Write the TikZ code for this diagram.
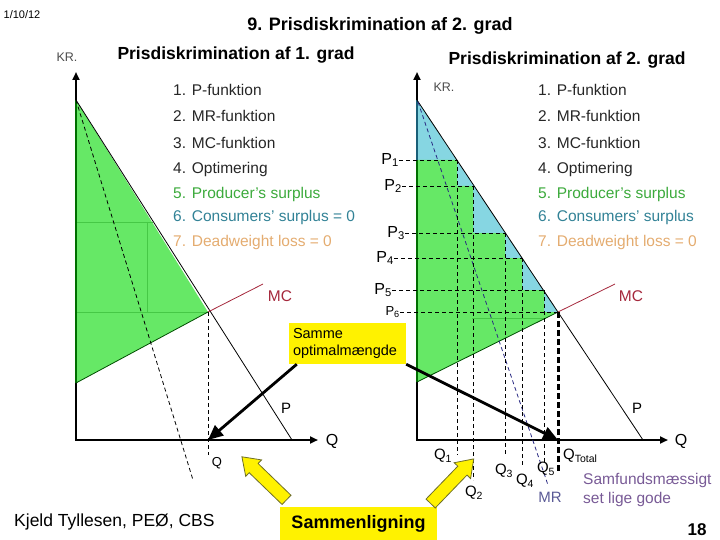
\documentclass[tikz,border=0pt]{standalone}
\usepackage{fontspec}
\setmainfont{Liberation Sans}
\usetikzlibrary{arrows.meta, positioning, shapes.arrows}

\definecolor{surplusgreen}{RGB}{102,232,102}
\definecolor{faintgreen}{RGB}{70,200,70}
\definecolor{axisgreen}{RGB}{0,110,0}
\definecolor{cscyan}{RGB}{134,214,226}
\definecolor{axiscyan}{RGB}{25,95,120}
\definecolor{mcred}{RGB}{165,40,60}
\definecolor{txtgreen}{RGB}{60,170,60}
\definecolor{txtteal}{RGB}{50,130,150}
\definecolor{txttan}{RGB}{228,172,112}
\definecolor{mrblue}{RGB}{40,40,130}
\definecolor{mrtext}{RGB}{90,90,150}
\definecolor{samfpurple}{RGB}{120,90,150}
\definecolor{arrowedge}{RGB}{110,110,40}

\newcommand{\pxfont}[1]{\fontsize{#1}{#1}\selectfont}

\begin{document}
\begin{tikzpicture}[
  x=1pt, y=-1pt,
  font=\pxfont{15},
  title/.style  ={font=\pxfont{18}\bfseries, inner sep=0pt},
  head/.style   ={font=\pxfont{17.5}\bfseries, inner sep=0pt},
  item/.style   ={anchor=west, inner sep=0pt, text=black!85, font=\pxfont{15.5}},
  lab/.style    ={inner sep=0pt},
  plab/.style   ={inner sep=0pt, anchor=east, font=\pxfont{16}},
  axis/.style   ={line width=2.6pt, {Triangle[length=8pt,width=7pt]}-{Triangle[length=8pt,width=7pt]}},
  curve/.style  ={line width=0.8pt},
  mrline/.style ={line width=0.8pt, dash pattern=on 4pt off 3pt},
  guide/.style  ={line width=0.8pt, dash pattern=on 4pt off 3pt},
  faint/.style  ={line width=0.8pt, draw=faintgreen},
  note/.style   ={fill=yellow, text width=109pt, align=left, inner sep=4pt,
                  font=\fontsize{14.5}{17}\selectfont, minimum height=41pt},
  callout/.style={line width=2.8pt, -{Triangle[length=15pt,width=13pt]}},
  block/.style  ={single arrow, fill=yellow, draw=arrowedge, line width=0.8pt,
                  inner sep=6pt, minimum height=62pt, single arrow head extend=5pt,
                  single arrow tip angle=70},
]
\useasboundingbox (0,0) rectangle (720,540);

% ---- headings ----
\node[lab, font=\pxfont{11}] (date) at (22,15) {1/10/12};
\node[title] (main) at (380,26) {9. Prisdiskrimination af 2. grad};
\node[head]  (hl)   at (236,55) {Prisdiskrimination af 1. grad};
\node[head]  (hr)   at (567,60) {Prisdiskrimination af 2. grad};

% ---- left chart: 1. grad ----
\coordinate (lO)    at (76,440);
\coordinate (lTop)  at (76,72);
\coordinate (lQend) at (318,440);
\coordinate (lPa)   at (76,100);
\coordinate (lPb)   at (292,440);
\coordinate (lE)    at (208,312);
\coordinate (lMCa)  at (76,383);
\coordinate (lMCb)  at (263,284);
\coordinate (lMRb)  at (193,480);
\coordinate (lQ)    at (208,440);
\coordinate (lQlow) at (208,455);

\fill[surplusgreen] (lPa) -- (lE) -- (lMCa) -- cycle;
\draw[faint] (76,222) -- (153,222);
\draw[faint] (147,222) -- (147,312);
\draw[faint] (76,312) -- (lE);

\draw[axis] (lTop) -- (lO) -- (lQend);
\draw[line width=2.6pt, axisgreen] (lPa) -- (lMCa);

\draw[curve] (lPa) -- (lPb);
\draw[curve, draw=axisgreen!70!black] (lMCa) -- (lE);
\draw[curve, draw=mcred] (lE) -- (lMCb);
\draw[mrline] (lPa) -- (lMRb);
\draw[guide] (lE) -- (lQlow);

\node[lab, font=\pxfont{12.5}, text=black!70] (lkr) at (67,57) {KR.};
\node[lab, text=mcred, font=\pxfont{15.5}] (lmc) at (280,296) {MC};
\node[lab] (lp)  at (286,408) {P};
\node[lab, font=\pxfont{16}] (lqa) at (332,441) {Q};
\node[lab, font=\pxfont{13}] (lqb) at (217,463) {Q};

\node[item] (l1) at (173,90)  {1. P-funktion};
\node[item] (l2) at (173,116) {2. MR-funktion};
\node[item] (l3) at (173,143) {3. MC-funktion};
\node[item] (l4) at (173,169) {4. Optimering};
\node[item, text=txtgreen] (l5) at (173,194) {5. Producer's surplus};
\node[item, text=txtteal]  (l6) at (173,217) {6. Consumers' surplus = 0};
\node[item, text=txttan]   (l7) at (173,242) {7. Deadweight loss = 0};

% ---- right chart: 2. grad ----
\coordinate (rO)    at (417,440);
\coordinate (rTop)  at (417,72);
\coordinate (rQend) at (668,440);
\coordinate (rPa)   at (417,100);
\coordinate (rPb)   at (643,440);
\coordinate (rE)    at (558,312);
\coordinate (rMCa)  at (417,382);
\coordinate (rMCb)  at (615,284);
\coordinate (rMRa)  at (418,102);
\coordinate (rMRb)  at (548,485);
\coordinate (rP1)   at (417,160);
\coordinate (rQ)    at (558,440);

% step corners
\coordinate (s1) at (457,160);
\coordinate (s2) at (473,186);
\coordinate (s3) at (505,233);
\coordinate (s4) at (522,258);
\coordinate (s5) at (544,290);
\coordinate (s6) at (558,312);
% lower ends of the quantity guides
\coordinate (b1) at (457,455);
\coordinate (b2) at (473,480);
\coordinate (b3) at (505,455);
\coordinate (b4) at (522,465);
\coordinate (b5) at (544,462);
\coordinate (bT) at (558,472);

\fill[cscyan] (rPa) -- (rE) -- (rMCa) -- cycle;
\fill[surplusgreen] (rP1) -- (s1) |- (s2) |- (s3) |- (s4) |- (s5) |- (s6) -- (rMCa) -- cycle;
\draw[faint] (472,318) -- (546,318);

\draw[axis] (rTop) -- (rO) -- (rQend);
\draw[line width=2.6pt, axiscyan]  (rPa) -- (rP1);
\draw[line width=2.6pt, axisgreen] (rP1) -- (rMCa);

\draw[curve] (rPa) -- (rPb);
\draw[curve, draw=axisgreen!70!black] (rMCa) -- (rE);
\draw[curve, draw=mcred] (rE) -- (rMCb);
\draw[mrline, draw=mrblue] (rMRa) -- (rMRb);

% price labels and guides
\node[plab] (p1) at (399,160) {P\textsubscript{1}};
\node[plab] (p2) at (402,186) {P\textsubscript{2}};
\node[plab] (p3) at (405,233) {P\textsubscript{3}};
\node[plab] (p4) at (394,258) {P\textsubscript{4}};
\node[plab] (p5) at (392,290) {P\textsubscript{5}};
\node[plab, font=\pxfont{13}] (p6) at (400,312) {P\textsubscript{6}};

\draw[guide] (p1.east) -- (s1);
\draw[guide] (p2.east) -- (s2);
\draw[guide] (p3.east) -- (s3);
\draw[guide] (p4.east) -- (s4);
\draw[guide] (p5.east) -- (s5);
\draw[guide] (p6.east) -- (s6);

\draw[guide] (s1) -- (b1);
\draw[guide] (s2) -- (b2);
\draw[guide] (s3) -- (b3);
\draw[guide] (s4) -- (b4);
\draw[guide] (s5) -- (b5);
\draw[line width=3pt, dash pattern=on 6pt off 3pt] (s6) -- (bT);

% quantity labels
\node[lab] (q1) at (443,456) {Q\textsubscript{1}};
\node[lab] (q2) at (474,493) {Q\textsubscript{2}};
\node[lab] (q3) at (504,471) {Q\textsubscript{3}};
\node[lab] (q4) at (525,481) {Q\textsubscript{4}};
\node[lab] (q5) at (546,469) {Q\textsubscript{5}};
\node[lab, anchor=west] (qt) at (563,456) {Q\textsubscript{Total}};

\node[lab, font=\pxfont{12.5}, text=black!70] (rkr) at (444,87) {KR.};
\node[lab, text=mcred, font=\pxfont{15.5}] (rmc) at (631,296) {MC};
\node[lab] (rp)  at (637,408) {P};
\node[lab, font=\pxfont{16}] (rqa) at (681,441) {Q};
\node[lab, text=mrtext] (mr) at (550,497) {MR};
\node[lab, anchor=north west, align=left, text=samfpurple,
      font=\fontsize{15.5}{19}\selectfont] (samf) at (583,473) {Samfundsmæssigt\\set lige gode};

\node[item] (r1) at (538,90)  {1. P-funktion};
\node[item] (r2) at (538,116) {2. MR-funktion};
\node[item] (r3) at (538,143) {3. MC-funktion};
\node[item] (r4) at (538,169) {4. Optimering};
\node[item, text=txtgreen] (r5) at (538,194) {5. Producer's surplus};
\node[item, text=txtteal]  (r6) at (538,217) {6. Consumers' surplus};
\node[item, text=txttan]   (r7) at (538,242) {7. Deadweight loss = 0};

% ---- comparison ----
\node[note] (same) at (347.5,343.5) {Samme\\optimalmængde};
\draw[callout] ([xshift=8pt]same.south west) -- (lQ);
\draw[callout] (same.south east) -- (rQ);

\node[fill=yellow, minimum width=157pt, minimum height=33pt, inner sep=0pt,
      font=\pxfont{18}\bfseries] (cmp) at (358.5,523.5) {Sammenligning};
\node[block, rotate=136] (cmpL) at (267.5,481.5) {};
\node[block, rotate=46]  (cmpR) at (449,484.5) {};

% ---- footer ----
\node[lab, anchor=west, font=\pxfont{17.5}] (author) at (14,522) {Kjeld Tyllesen, PEØ, CBS};
\node[lab, font=\pxfont{17}\bfseries] (page) at (697,530) {18};

\end{tikzpicture}
\end{document}
